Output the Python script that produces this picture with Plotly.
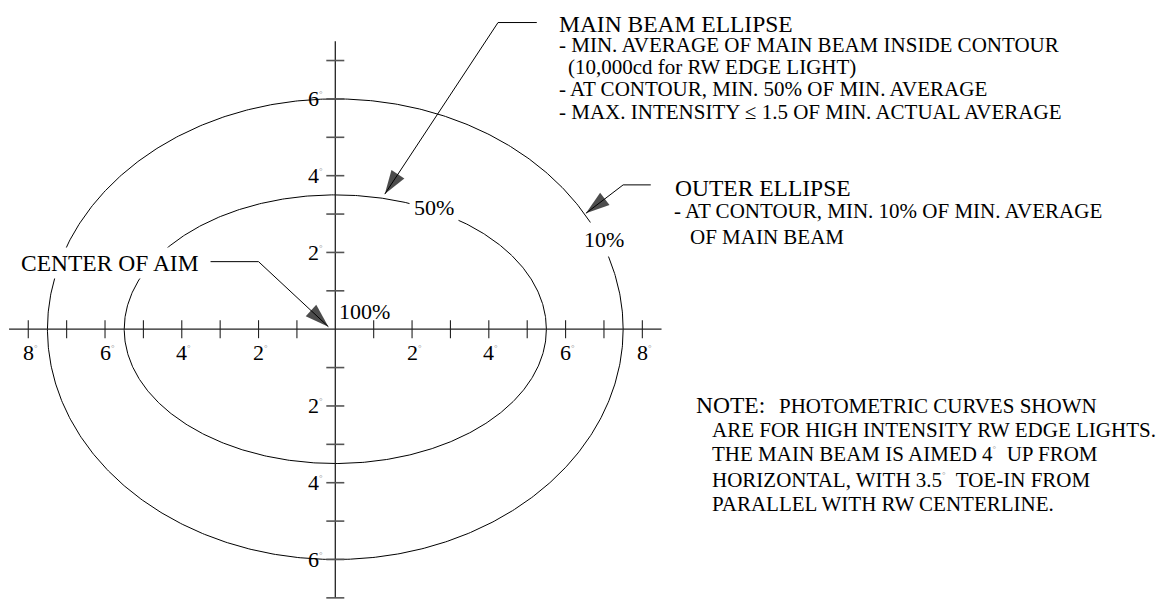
import numpy as np
import plotly.graph_objects as go

# Photometric contours (semi-axes in degrees: horizontal, vertical)
main_beam_semi = [5.5, 3.5]   # 50 % contour
outer_semi = [7.5, 6.0]       # 10 % contour

# Degree grid along the two reference axes
h_tick_vals = [-8, -7, -6, -5, -4, -3, -2, -1, 1, 2, 3, 4, 5, 6, 7, 8]
v_tick_vals = [-7, -6, -5, -4, -3, -2, -1, 1, 2, 3, 4, 5, 6, 7]
h_label_vals = [-8, -6, -4, -2, 2, 4, 6, 8]
v_label_vals = [-6, -4, -2, 2, 4, 6]
h_axis_span = [-8.5, 8.5]
v_axis_span = [-7.0, 7.5]

# Leader lines (text end -> elbow -> arrow tip), in degrees
main_leader_x = [5.25, 4.24, 1.29]
main_leader_y = [7.99, 7.99, 3.52]
outer_leader_x = [8.22, 7.50, 6.53]
outer_leader_y = [3.76, 3.76, 3.02]
aim_leader_x = [-3.25, -2.00, -0.18]
aim_leader_y = [1.76, 1.76, 0.065]

FONT = "Liberation Serif, Times New Roman, serif"
PX_PER_DEG = 38.38
CX, CY = 335.3, 329.2           # pixel position of the aim point
W, H = 1163, 601
TICK = 9 / PX_PER_DEG           # half-length of tick marks
DEG = "<sup><span style='font-size:9px;color:#999'>°</span></sup>"

fig = go.Figure()


def ellipse(semi):
    t = np.linspace(0, 2 * np.pi, 721)
    return semi[0] * np.cos(t), semi[1] * np.sin(t)


for semi in (outer_semi, main_beam_semi):
    ex, ey = ellipse(semi)
    fig.add_trace(go.Scatter(x=ex, y=ey, mode="lines",
                             line=dict(color="black", width=1), hoverinfo="skip"))

# axes
fig.add_trace(go.Scatter(x=h_axis_span, y=[0, 0], mode="lines",
                         line=dict(color="#222", width=1.3), hoverinfo="skip"))
fig.add_trace(go.Scatter(x=[0, 0], y=v_axis_span, mode="lines",
                         line=dict(color="#222", width=1.3), hoverinfo="skip"))

# tick marks
tx, ty = [], []
for v in h_tick_vals:
    tx += [v, v, None]
    ty += [-TICK, TICK, None]
fig.add_trace(go.Scatter(x=tx, y=ty, mode="lines",
                         line=dict(color="#222", width=1.1), hoverinfo="skip"))
tx, ty = [], []
for v in v_tick_vals:
    tx += [-TICK, TICK, None]
    ty += [v, v, None]
fig.add_trace(go.Scatter(x=tx, y=ty, mode="lines",
                         line=dict(color="#555", width=1.6), hoverinfo="skip"))

# leader lines with arrow heads
for lx, ly in ((main_leader_x, main_leader_y),
               (outer_leader_x, outer_leader_y),
               (aim_leader_x, aim_leader_y)):
    fig.add_trace(go.Scatter(
        x=lx, y=ly, mode="lines+markers",
        line=dict(color="black", width=1),
        marker=dict(symbol="arrow", size=[0, 0, 25], angleref="previous",
                    color="black", line=dict(width=0)),
        hoverinfo="skip"))

annotations = []


def label(x, y, text, size, xanchor="left", bg=None, pad=1, xshift=0):
    annotations.append(dict(
        x=x, y=y, xref="x", yref="y", text=text, showarrow=False,
        xanchor=xanchor, yanchor="middle", align="left", xshift=xshift,
        font=dict(family=FONT, size=size, color="black"),
        bgcolor=bg, borderpad=pad))


# tick labels
for v in h_label_vals:
    label(v, -0.6, f"{abs(v)}{DEG}", 22, xanchor="center", xshift=2)
for v in v_label_vals:
    label(-0.27, v, f"{abs(v)}{DEG}", 22, xanchor="right")

# contour values
label(2.57, 3.18, "50%", 22, xanchor="center", bg="white", pad=4)
label(7.0, 2.34, "10%", 22, xanchor="center", bg="white", pad=4)
label(0.05, 0.46, "100%", 22)
label(-5.88, 1.72, "CENTER OF AIM", 23.5, xanchor="center", bg="white", pad=2)

# main beam description
label(5.77, 7.95, "MAIN BEAM ELLIPSE", 23.5)
label(5.77, 7.41, "- MIN. AVERAGE OF MAIN BEAM INSIDE CONTOUR", 21)
label(6.0, 6.83, "(10,000cd for RW EDGE LIGHT)", 21)
label(5.77, 6.27, "- AT CONTOUR, MIN. 50% OF MIN. AVERAGE", 21)
label(5.77, 5.65, "- MAX. INTENSITY ≤ 1.5 OF MIN. ACTUAL AVERAGE", 21)

# outer ellipse description
label(8.79, 3.68, "OUTER ELLIPSE", 23.5)
label(8.77, 3.09, "- AT CONTOUR, MIN. 10% OF MIN. AVERAGE", 21)
label(9.20, 2.41, "OF MAIN BEAM", 21)

# note
label(9.35, -1.97, "NOTE:", 23.5)
label(11.5, -2.0, "PHOTOMETRIC CURVES SHOWN", 21)
label(9.76, -2.62, "ARE FOR HIGH INTENSITY RW EDGE LIGHTS.", 21)
label(9.76, -3.26, f"THE MAIN BEAM IS AIMED 4{DEG}  UP FROM", 21)
label(9.76, -3.92, f"HORIZONTAL, WITH 3.5{DEG}  TOE-IN FROM", 21)
label(9.76, -4.55, "PARALLEL WITH RW CENTERLINE.", 21)

fig.update_layout(
    width=W, height=H,
    margin=dict(l=0, r=0, t=0, b=0),
    paper_bgcolor="white", plot_bgcolor="white",
    showlegend=False,
    font=dict(family=FONT),
    annotations=annotations,
    xaxis=dict(range=[-CX / PX_PER_DEG, (W - CX) / PX_PER_DEG], visible=False,
               fixedrange=True),
    yaxis=dict(range=[(CY - H) / PX_PER_DEG, CY / PX_PER_DEG], visible=False,
               fixedrange=True),
)

fig.write_html("out.html", config={"displayModeBar": False})
